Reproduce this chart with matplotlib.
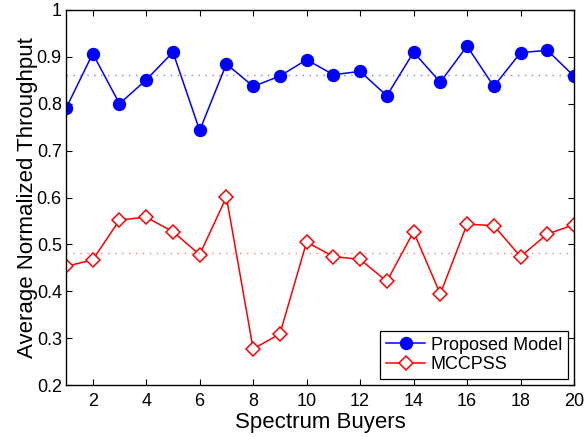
from matplotlib import pyplot as plt
import numpy as np

buyers = list(range(1, 21))
proposed = [0.790, 0.907, 0.800, 0.851, 0.910, 0.743, 0.885, 0.837, 0.859, 0.894,
            0.862, 0.869, 0.817, 0.910, 0.846, 0.923, 0.837, 0.909, 0.914, 0.859]
mccpss = [0.453, 0.467, 0.552, 0.558, 0.527, 0.478, 0.601, 0.277, 0.309, 0.505,
          0.474, 0.468, 0.421, 0.527, 0.394, 0.543, 0.540, 0.474, 0.522, 0.542]
xticks = [2, 4, 6, 8, 10, 12, 14, 16, 18, 20]
yticks = [0.2, 0.3, 0.4, 0.5, 0.6, 0.7, 0.8, 0.9, 1]
ytick_labels = ['0.2', '0.3', '0.4', '0.5', '0.6', '0.7', '0.8', '0.9', '1']

plt.rcParams['font.family'] = ['Liberation Sans', 'DejaVu Sans']

fig = plt.figure(figsize=(5.84, 4.37), dpi=100)
ax = fig.add_axes([66 / 584, 1 - 385 / 437, (574 - 66) / 584, (385 - 10) / 437])

ax.plot(buyers, proposed, color='blue', lw=1.1, marker='o', markersize=8.6,
        label='Proposed Model')
ax.plot(buyers, mccpss, color='red', lw=1.1, marker='D', markersize=7.0,
        markerfacecolor='white', markeredgecolor='red', markeredgewidth=1.1,
        label='MCCPSS')

# mean lines
ax.plot([1, 20], [np.mean(proposed)] * 2, color='blue', ls=(0, (1, 4)), lw=1.0, alpha=0.5)
ax.plot([1, 20], [np.mean(mccpss)] * 2, color='red', ls=(0, (1, 4)), lw=1.0, alpha=0.5)

ax.set_xlim(1, 20)
ax.set_ylim(0.2, 1)
ax.set_xticks(xticks)
ax.set_yticks(yticks)
ax.set_yticklabels(ytick_labels)
ax.tick_params(direction='in', top=True, right=True, labelsize=13, length=4)
ax.tick_params(axis='x', pad=6)
ax.tick_params(axis='y', pad=3)
for s in ax.spines.values():
    s.set_linewidth(1.0)

ax.set_xlabel('Spectrum Buyers', fontsize=16, labelpad=1)
ax.set_ylabel('Average Normalized Throughput', fontsize=16, labelpad=-1)

leg = ax.legend(loc='lower right', fontsize=13, fancybox=False, framealpha=1,
                edgecolor='black', borderaxespad=0.35, handlelength=2.2,
                handletextpad=0.3, borderpad=0.3, labelspacing=0.15)
leg.get_frame().set_linewidth(0.9)

fig.savefig('out.png', dpi=100)
